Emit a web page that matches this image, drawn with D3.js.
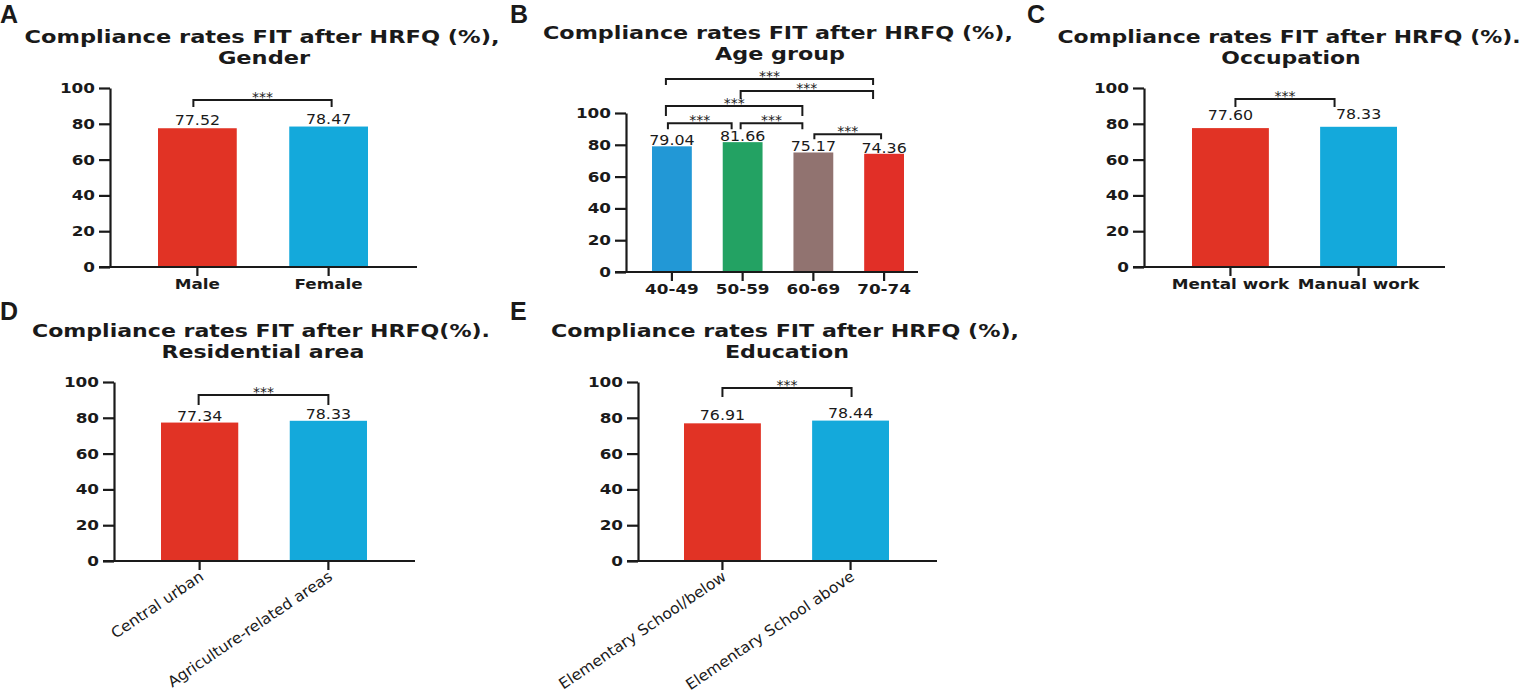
<!DOCTYPE html>
<html>
<head>
<meta charset="utf-8">
<script src="https://cdn.jsdelivr.net/npm/d3@7"></script>
<style>
  body { margin: 0; background: #fff; }
  svg { display: block; }
  text { fill: #1a1a1a; }
</style>
</head>
<body>
<script>
// values
var genderCats = ['Male', 'Female'],
	genderVals = [77.52, 78.47];
var ageCats = ['40-49', '50-59', '60-69', '70-74'],
	ageVals = [79.04, 81.66, 75.17, 74.36];
var occCats = ['Mental work', 'Manual work'],
	occVals = [77.60, 78.33];
var areaCats = ['Central urban', 'Agriculture-related areas'],
	areaVals = [77.34, 78.33];
var eduCats = ['Elementary School/below', 'Elementary School above'],
	eduVals = [76.91, 78.44];
var yTicks = [0, 20, 40, 60, 80, 100];
var pairTwo = [[0, 1]];
var pairAge = [[0, 3], [1, 3], [0, 2], [0, 1], [1, 2], [2, 3]];
var sigMark = '***';

var RED = '#e13325', BLUE = '#14a9db';

//layout of each panel (pixels on the 1521x696 page)
var panels = [
	{letter:'A', lx:0, ly:23, title:['Compliance rates FIT after HRFQ (%),', 'Gender'], tx:262, ty:43, tw:475,
	 cats:genderCats, vals:genderVals, colors:[RED, BLUE], pairs:pairTwo,
	 ax:110, y0:267, y100:88, xEnd:417, barL:158, barR:368, pad:0.4, gap:3, rotate:false,
	 br:[{lv:93.3, leg:7, dl:-4, dr:3}]},
	{letter:'B', lx:510, ly:23, title:['Compliance rates FIT after HRFQ (%),', 'Age group'], tx:778, ty:39, tw:470,
	 cats:ageCats, vals:ageVals, colors:['#2298d6', '#23a263', '#917370', '#e12f27'], pairs:pairAge,
	 ax:626, y0:272, y100:113, xEnd:918, barL:652, barR:904, pad:0.437, gap:1, rotate:false,
	 br:[{lv:121.4, leg:6, dl:-6, dr:-11}, {lv:113.8, leg:8, dl:-2, dr:-11}, {lv:104.4, leg:10, dl:-6, dr:-11},
	     {lv:93.6, leg:6, dl:-4, dr:-11}, {lv:93.6, leg:6, dl:-2, dr:-11}, {lv:86.6, leg:5, dl:1, dr:-3}]},
	{letter:'C', lx:1027, ly:23, title:['Compliance rates FIT after HRFQ (%).', 'Occupation'], tx:1289, ty:43, tw:463,
	 cats:occCats, vals:occVals, colors:[RED, BLUE], pairs:pairTwo,
	 ax:1144, y0:267, y100:88, xEnd:1445, barL:1192, barR:1397, pad:0.4, gap:8, rotate:false,
	 br:[{lv:93.9, leg:8, dl:5, dr:-24}]},
	{letter:'D', lx:0, ly:320, title:['Compliance rates FIT after HRFQ(%).', 'Residential area'], tx:261, ty:337, tw:458,
	 cats:areaCats, vals:areaVals, colors:[RED, BLUE], pairs:pairTwo,
	 ax:114, y0:561, y100:382, xEnd:415, barL:161, barR:367, pad:0.4, gap:2, rotate:true,
	 br:[{lv:92.7, leg:10, dl:-1, dr:0}]},
	{letter:'E', lx:510, ly:320, title:['Compliance rates FIT after HRFQ (%),', 'Education'], tx:785, ty:337, tw:468,
	 cats:eduCats, vals:eduVals, colors:[RED, BLUE], pairs:pairTwo,
	 ax:638, y0:561, y100:382, xEnd:937, barL:684, barR:889, pad:0.4, gap:3, rotate:true,
	 br:[{lv:96.6, leg:9, dl:0, dr:1}]}
];

var svg = d3.select('body').append('svg')
	.attr('width', 1521)
	.attr('height', 696);

//widen glyphs a bit, the original font is broader than DejaVu
function stretch(sel, k){
	sel.each(function(){
		var w = this.getComputedTextLength();
		d3.select(this).attr('textLength', w*k).attr('lengthAdjust', 'spacingAndGlyphs');
	});
}

function drawPanel(p){
	var g = svg.append('g');

	var y = d3.scaleLinear().domain([0, 100]).range([p.y0, p.y100]);
	var x = d3.scaleBand().domain(p.cats).range([p.barL, p.barR])
		.paddingInner(p.pad).paddingOuter(0);
	var cx = function(i){ return x(p.cats[i]) + x.bandwidth()/2; };

	//panel letter
	g.append('text')
		.attr('x', p.lx).attr('y', p.ly)
		.style('font-family', 'Liberation Sans, Arial, sans-serif')
		.style('font-weight', 'bold').style('font-size', '25px')
		.text(p.letter);

	//title, two lines
	var t1 = g.append('text')
		.attr('x', p.tx).attr('y', p.ty)
		.attr('text-anchor', 'middle')
		.style('font-family', 'DejaVu Sans').style('font-weight', 'bold').style('font-size', '18px')
		.text(p.title[0]);
	var k = p.tw / t1.node().getComputedTextLength();
	t1.attr('textLength', p.tw).attr('lengthAdjust', 'spacingAndGlyphs');
	var t2 = g.append('text')
		.attr('x', p.tx + 2).attr('y', p.ty + 21)
		.attr('text-anchor', 'middle')
		.style('font-family', 'DejaVu Sans').style('font-weight', 'bold').style('font-size', '18px')
		.text(p.title[1]);
	stretch(t2, k);

	//bars
	g.selectAll('rect.bar')
		.data(p.vals)
		.join('rect')
		.attr('class', 'bar')
		.attr('x', function(d, i){ return x(p.cats[i]); })
		.attr('y', function(d){ return y(d); })
		.attr('width', x.bandwidth())
		.attr('height', function(d){ return y(0) - y(d); })
		.style('fill', function(d, i){ return p.colors[i]; });

	//value labels
	var vl = g.selectAll('text.val')
		.data(p.vals)
		.join('text')
		.attr('class', 'val')
		.attr('x', function(d, i){ return cx(i); })
		.attr('y', function(d){ return y(d) - p.gap; })
		.attr('text-anchor', 'middle')
		.style('font-family', 'DejaVu Sans').style('font-size', '14px')
		.text(d3.format('.2f'));
	stretch(vl, 1.13);

	//y axis
	var ya = g.append('g')
		.attr('transform', 'translate(' + p.ax + ',0)')
		.call(d3.axisLeft(y).tickValues(yTicks).tickSize(11).tickSizeOuter(0).tickPadding(4));
	ya.selectAll('path,line').style('stroke', '#1a1a1a').style('stroke-width', 2.2);
	ya.selectAll('text')
		.style('font-family', 'DejaVu Sans').style('font-weight', 'bold').style('font-size', '14px')
		.style('fill', '#1a1a1a');
	stretch(ya.selectAll('text'), 1.2);

	//x axis
	var xa = g.append('g')
		.attr('transform', 'translate(0,' + p.y0 + ')')
		.call(d3.axisBottom(x).tickSize(9).tickSizeOuter(0).tickPadding(3));
	xa.select('.domain').remove();
	xa.append('line')
		.attr('x1', p.ax - 11).attr('x2', p.xEnd)
		.style('stroke', '#1a1a1a').style('stroke-width', 2.2);
	xa.selectAll('.tick line').style('stroke', '#1a1a1a').style('stroke-width', 2.2);
	var xt = xa.selectAll('.tick text').style('fill', '#1a1a1a').style('font-family', 'DejaVu Sans');
	if(p.rotate){
		xt.attr('text-anchor', 'end')
			.attr('x', 5).attr('y', 18).attr('dy', 0)
			.attr('transform', 'rotate(-34,5,18)')
			.style('font-size', '15px');
		stretch(xt, 1.04);
	} else {
		xt.style('font-weight', 'bold').style('font-size', '14px');
		stretch(xt, 1.2);
	}

	//significance brackets
	p.pairs.forEach(function(pr, j){
		var b = p.br[j],
			x1 = cx(pr[0]) + b.dl,
			x2 = cx(pr[1]) + b.dr,
			yl = y(b.lv);
		g.append('path')
			.attr('d', 'M' + x1 + ',' + (yl + b.leg) + 'V' + yl + 'H' + x2 + 'V' + (yl + b.leg))
			.style('fill', 'none').style('stroke', '#1a1a1a').style('stroke-width', 2);
		g.append('text')
			.attr('x', (x1 + x2)/2).attr('y', yl + 2)
			.attr('text-anchor', 'middle')
			.style('font-family', 'DejaVu Sans').style('font-size', '14px')
			.text(sigMark);
	});
}

panels.forEach(drawPanel);
</script>
</body>
</html>
